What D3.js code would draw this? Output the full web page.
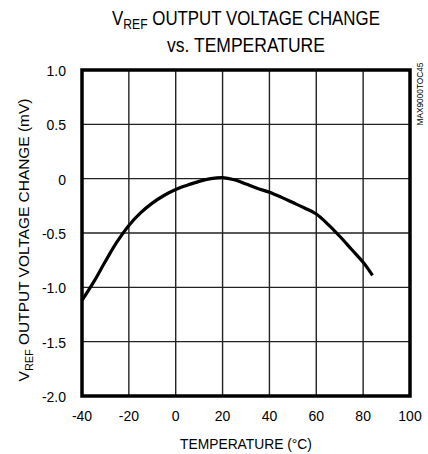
<!DOCTYPE html>
<html><head><meta charset="utf-8">
<script src="https://cdn.jsdelivr.net/npm/d3@7"></script>
<style>body{margin:0;background:#fff}svg{display:block}text{font-family:"Liberation Sans",Arial,sans-serif;fill:#000}</style>
</head><body>
<script>
const temps = [-40,-35,-30,-25,-20,-15,-10,-5,0,5,10,15,20,25,30,35,40,45,50,55,60,65,70,75,80,84];
const vChange = [-1.12,-0.95,-0.76,-0.58,-0.43,-0.315,-0.225,-0.155,-0.10,-0.06,-0.025,0.0,0.01,-0.01,-0.05,-0.09,-0.125,-0.17,-0.22,-0.27,-0.325,-0.42,-0.53,-0.65,-0.77,-0.89];
const xTicks = [-40,-20,0,20,40,60,80,100];
const yTicks = [1.0,0.5,0,-0.5,-1.0,-1.5,-2.0];
const yTickLabels = ["1.0","0.5","0","-0.5","-1.0","-1.5","-2.0"];

const W=428,H=454;
const svg=d3.select("body").append("svg").attr("width",W).attr("height",H);
const x=d3.scaleLinear().domain([-40,100]).range([82,410]);
const y=d3.scaleLinear().domain([-2,1]).range([396,70]);

// grid
svg.append("g").selectAll("line").data(xTicks).join("line")
  .attr("x1",d=>x(d)).attr("x2",d=>x(d)).attr("y1",y(1)).attr("y2",y(-2))
  .attr("stroke","#222").attr("stroke-width",1.4);
svg.append("g").selectAll("line").data(yTicks).join("line")
  .attr("x1",x(-40)).attr("x2",x(100)).attr("y1",d=>y(d)).attr("y2",d=>y(d))
  .attr("stroke","#222").attr("stroke-width",1.4);

// curve
const line=d3.line().x((d,i)=>x(temps[i])).y(d=>y(d)).curve(d3.curveCatmullRom);
svg.append("path").datum(vChange).attr("d",line).attr("fill","none")
  .attr("stroke","#000").attr("stroke-width",3.2).attr("stroke-linejoin","round");

// frame
svg.append("rect").attr("x",x(-40)).attr("y",y(1)).attr("width",x(100)-x(-40)).attr("height",y(-2)-y(1))
  .attr("fill","none").attr("stroke","#000").attr("stroke-width",3.5);

// tick labels
svg.append("g").selectAll("text").data(xTicks).join("text")
  .attr("x",d=>x(d)).attr("y",421).attr("text-anchor","middle").attr("font-size",14).text(d=>d);
svg.append("g").selectAll("text").data(yTicks).join("text")
  .attr("x",66).attr("y",d=>y(d)+6).attr("text-anchor","end").attr("font-size",14)
  .text((d,i)=>yTickLabels[i]);

function fit(sel,target,cx,cy,rot){
  const w=sel.node().getComputedTextLength();
  const s=target/w;
  sel.attr("transform",`translate(${cx},${cy}) rotate(${rot||0}) scale(${s},1)`);
}
// title
const t1=svg.append("text").attr("text-anchor","middle").attr("font-size",19.5);
t1.append("tspan").text("V");
t1.append("tspan").attr("font-size",14).attr("dy",4).text("REF");
t1.append("tspan").attr("dy",-4).text(" OUTPUT VOLTAGE CHANGE");
fit(t1,268,246,25);
const t2=svg.append("text").attr("text-anchor","middle").attr("font-size",19.5).text("vs. TEMPERATURE");
fit(t2,158,246,52);

// x title
const xt=svg.append("text").attr("text-anchor","middle").attr("font-size",15.5).text("TEMPERATURE (°C)");
fit(xt,132,246,449);

// y title
const yt=svg.append("text").attr("text-anchor","middle").attr("font-size",15.5);
yt.append("tspan").text("V");
yt.append("tspan").attr("font-size",11).attr("dy",4).text("REF");
yt.append("tspan").attr("dy",-4).text(" OUTPUT VOLTAGE CHANGE (mV)");
fit(yt,283,29,240,-90);

// side code
const sc=svg.append("text").attr("text-anchor","middle").attr("font-size",9).text("MAX9000TOC45");
fit(sc,63,423,94,-90);
</script>
</body></html>
